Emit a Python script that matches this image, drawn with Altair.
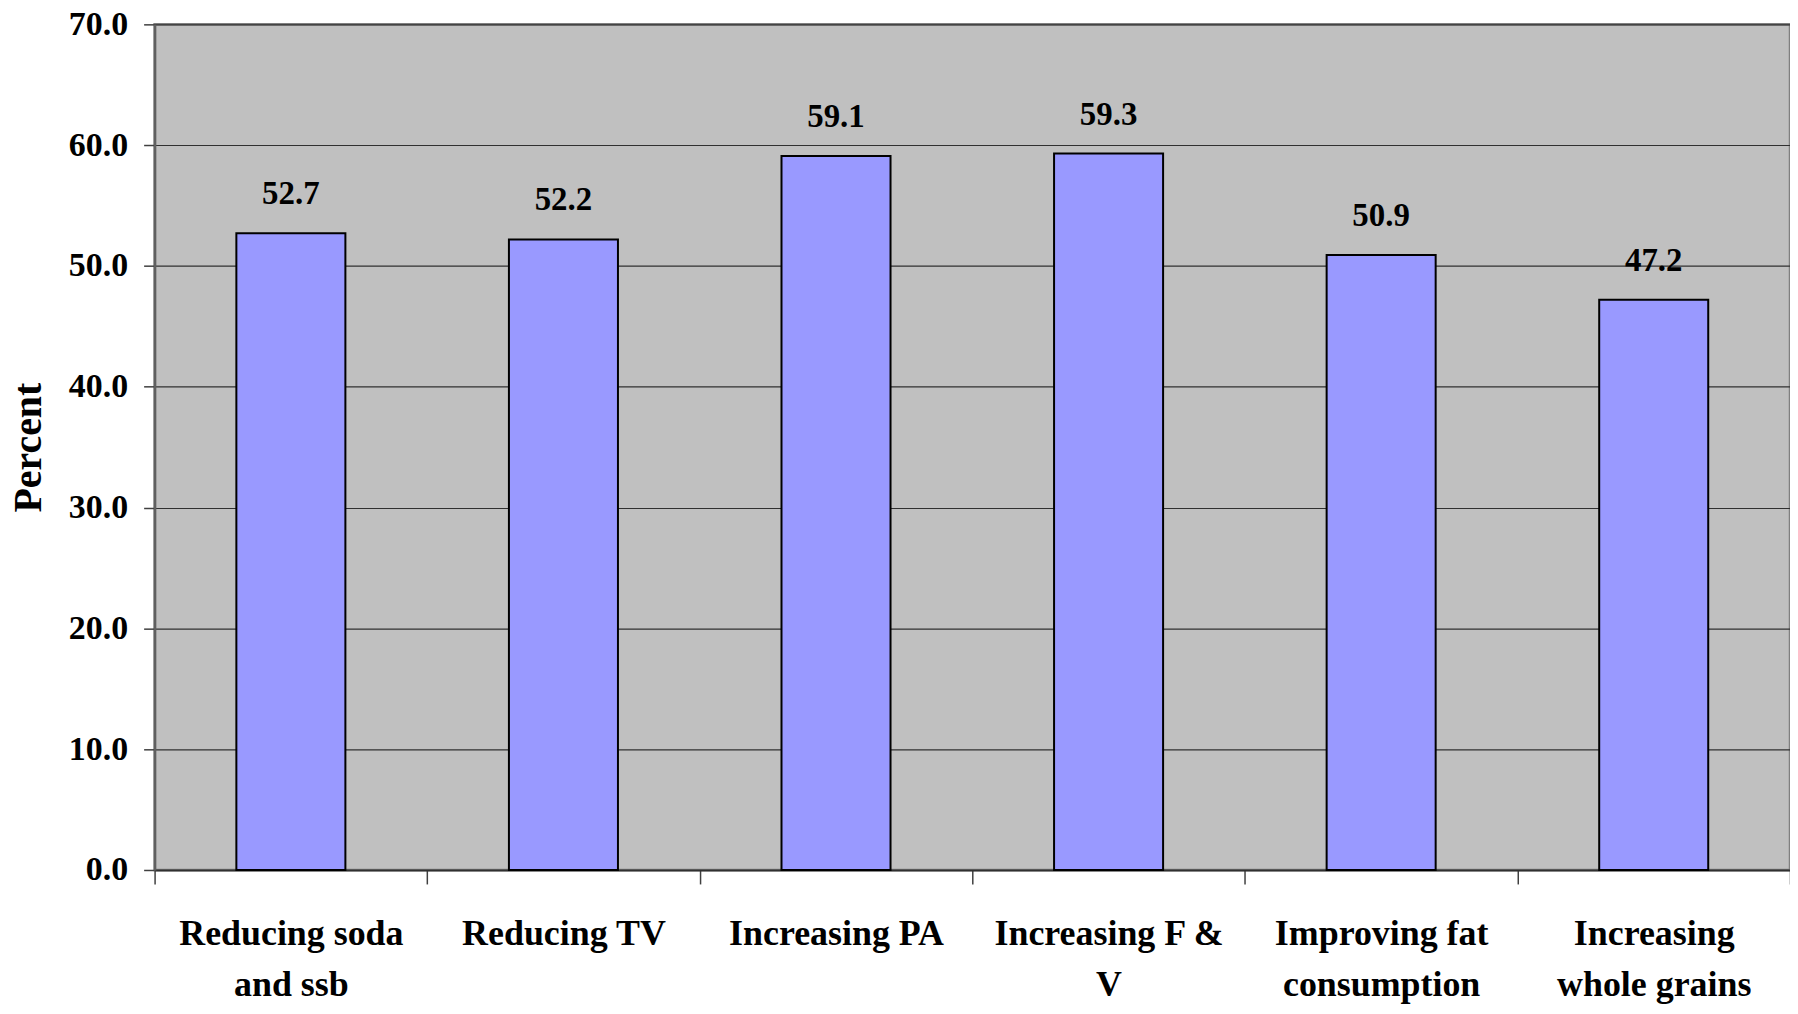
import altair as alt
import pandas as pd

categories = ["Reducing soda|and ssb", "Reducing TV", "Increasing PA", "Increasing F &|V",
              "Improving fat|consumption", "Increasing|whole grains"]
values = [52.7, 52.2, 59.1, 59.3, 50.9, 47.2]

df = pd.DataFrame({"cat": categories, "val": values})
FONT = "Liberation Serif"

x = alt.X("cat:N", sort=None, title=None,
          scale=alt.Scale(paddingInner=0, paddingOuter=0),
          axis=alt.Axis(labelExpr="split(datum.label, '|')", labelAngle=0, labelLimit=0,
                        labelFont=FONT, labelFontSize=36, labelFontWeight="bold",
                        labelColor="black", labelLineHeight=51, labelPadding=33,
                        labelBaseline="top",
                        tickBand="extent", tickSize=14, tickColor="#404040", tickWidth=1.5,
                        domainColor="#303030", domainWidth=2, grid=False))

y = alt.Y("val:Q", title="Percent",
          scale=alt.Scale(domain=[0, 70], nice=False),
          axis=alt.Axis(values=[0, 10, 20, 30, 40, 50, 60, 70], format=".1f",
                        labelFont=FONT, labelFontSize=34, labelFontWeight="bold",
                        labelColor="black", labelPadding=16,
                        tickSize=11, tickColor="#404040", tickWidth=1.5,
                        domainColor="#606060", domainWidth=2.5,
                        grid=True, gridColor="#303030", gridWidth=1.2,
                        titleFont=FONT, titleFontSize=40, titleFontWeight="bold",
                        titleColor="black", titleAngle=-90, titleX=-126, titleY=424,
                        titleAlign="center", titleBaseline="middle"))

bars = alt.Chart(df).mark_bar(color="#9999FF", stroke="black", strokeWidth=2,
                              width={"band": 0.4}).encode(x=x, y=y)
text = alt.Chart(df).mark_text(font=FONT, fontSize=33, fontWeight="bold", color="black",
                               baseline="middle", dy=-39).encode(
    x=alt.X("cat:N", sort=None), y="val:Q", text=alt.Text("val:Q", format=".1f"))

chart = alt.layer(bars, text).properties(
    width=1640, height=848,
    autosize=alt.AutoSizeParams(type="none"),
    padding={"left": 147, "top": 15, "right": 0, "bottom": 135},
).configure_view(fill="#C0C0C0", stroke="#808080", strokeWidth=2.5)

chart.save("out.html", embed_options={"renderer": "svg", "actions": False})
